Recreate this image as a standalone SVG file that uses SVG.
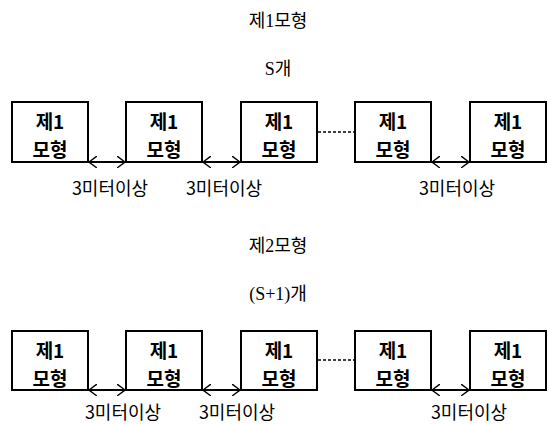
<svg xmlns="http://www.w3.org/2000/svg" width="548" height="424" viewBox="0 0 548 424">
<style>
.bg{fill:#fff}
.box{fill:#fff;stroke:#000;stroke-width:2}
.bt{font-family:"Noto Sans CJK KR","Noto Sans",sans-serif;font-size:19px;font-weight:bold;text-anchor:middle;fill:#000}
.title{font-family:"Liberation Serif","Noto Sans CJK KR",serif;font-size:18px;text-anchor:middle;fill:#000}
.lbl{font-family:"Noto Sans CJK KR","Noto Sans",sans-serif;font-size:18px;text-anchor:middle;fill:#000}
.arr{stroke:#000;stroke-width:1.8;fill:none;marker-start:url(#ah);marker-end:url(#ah)}
.dash{stroke:#000;stroke-width:1.3;stroke-dasharray:3 2;fill:none}
</style>
<defs>
<marker id="ah" viewBox="0 0 8 12" refX="8" refY="6" markerWidth="8" markerHeight="12" markerUnits="userSpaceOnUse" orient="auto-start-reverse">
<path d="M0,0 L8,6 L0,12" fill="none" stroke="#000" stroke-width="1.4"/>
</marker>
</defs>
<rect class="bg" width="548" height="424"/>

<text class="title" x="278" y="27">제1모형</text>
<text class="title" x="278" y="75">S개</text>

<g id="r1b1"><rect class="box" x="12" y="102" width="76" height="60"/><text class="bt" x="50" y="129">제1</text><text class="bt" x="50" y="157">모형</text></g>
<g id="r1b2"><rect class="box" x="126" y="102" width="76" height="60"/><text class="bt" x="164" y="129">제1</text><text class="bt" x="164" y="157">모형</text></g>
<g id="r1b3"><rect class="box" x="241" y="102" width="76" height="60"/><text class="bt" x="279" y="129">제1</text><text class="bt" x="279" y="157">모형</text></g>
<g id="r1b4"><rect class="box" x="355" y="102" width="76" height="60"/><text class="bt" x="393" y="129">제1</text><text class="bt" x="393" y="157">모형</text></g>
<g id="r1b5"><rect class="box" x="470" y="102" width="76" height="60"/><text class="bt" x="508" y="129">제1</text><text class="bt" x="508" y="157">모형</text></g>

<text class="title" x="278" y="252">제2모형</text>
<text class="title" x="278" y="300">(S+1)개</text>

<g id="r2b1"><rect class="box" x="12" y="331" width="76" height="59"/><text class="bt" x="50" y="358">제1</text><text class="bt" x="50" y="386">모형</text></g>
<g id="r2b2"><rect class="box" x="126" y="331" width="76" height="59"/><text class="bt" x="164" y="358">제1</text><text class="bt" x="164" y="386">모형</text></g>
<g id="r2b3"><rect class="box" x="241" y="331" width="76" height="59"/><text class="bt" x="279" y="358">제1</text><text class="bt" x="279" y="386">모형</text></g>
<g id="r2b4"><rect class="box" x="355" y="331" width="76" height="59"/><text class="bt" x="393" y="358">제1</text><text class="bt" x="393" y="386">모형</text></g>
<g id="r2b5"><rect class="box" x="470" y="331" width="76" height="59"/><text class="bt" x="508" y="358">제1</text><text class="bt" x="508" y="386">모형</text></g>

<g id="connectors">
<line class="arr" x1="89" y1="162" x2="125" y2="162"/>
<line class="arr" x1="203" y1="162" x2="240" y2="162"/>
<line class="arr" x1="432" y1="162" x2="469" y2="162"/>
<line class="dash" x1="318" y1="132" x2="354" y2="132"/>
<line class="arr" x1="89" y1="390" x2="125" y2="390"/>
<line class="arr" x1="203" y1="390" x2="240" y2="390"/>
<line class="arr" x1="432" y1="390" x2="469" y2="390"/>
<line class="dash" x1="318" y1="360" x2="354" y2="360"/>
</g>

<text class="lbl" x="110" y="195">3미터이상</text>
<text class="lbl" x="224" y="195">3미터이상</text>
<text class="lbl" x="457" y="195">3미터이상</text>
<text class="lbl" x="123" y="419">3미터이상</text>
<text class="lbl" x="237" y="419">3미터이상</text>
<text class="lbl" x="469" y="419">3미터이상</text>
</svg>
